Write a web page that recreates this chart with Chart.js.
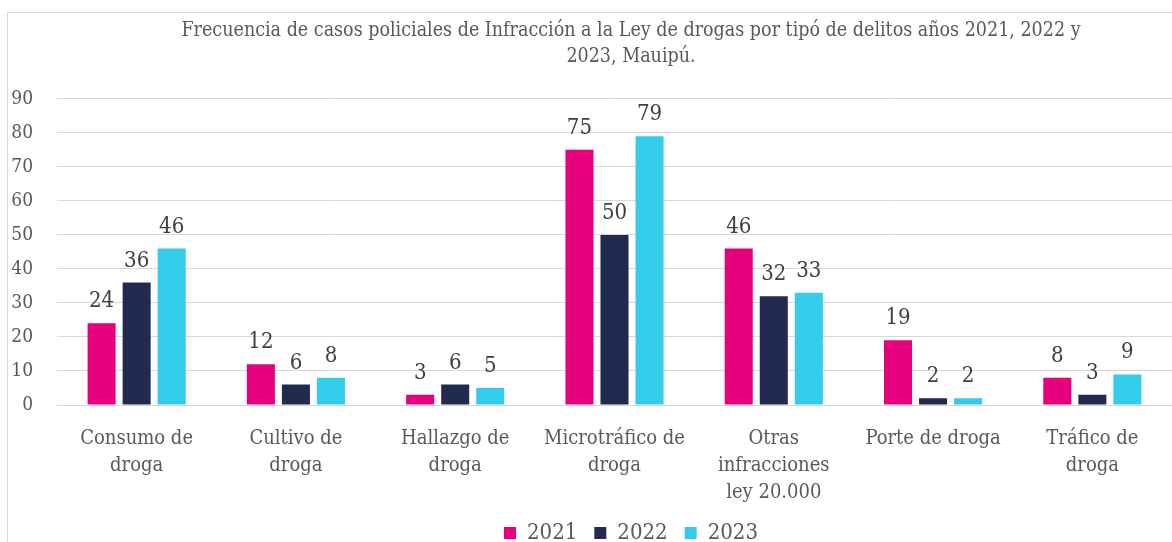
<!DOCTYPE html>
<html>
<head>
<meta charset="utf-8">
<script src="https://cdn.jsdelivr.net/npm/chart.js@4.4.1/dist/chart.umd.min.js"></script>
<style>
  html, body { margin: 0; padding: 0; background: #fff; overflow: hidden; }
  #marco { position: absolute; left: 7px; top: 12px; width: 1246px; height: 541px; border: 1px solid #d9d9d9; }
</style>
</head>
<body>
<div id="marco"><canvas id="grafico"></canvas></div>
<script>
// datos del gráfico
const categorias = [
  ["Consumo de", "droga"],
  ["Cultivo de", "droga"],
  ["Hallazgo de", "droga"],
  ["Microtráfico de", "droga"],
  ["Otras", "infracciones", "ley 20.000"],
  ["Porte de droga"],
  ["Tráfico de", "droga"]
];
const anios = ["2021", "2022", "2023"];
const casos2021 = [24, 12, 3, 75, 46, 19, 8];
const casos2022 = [36, 6, 6, 50, 32, 2, 3];
const casos2023 = [46, 8, 5, 79, 33, 2, 9];
const marcasY = [0, 10, 20, 30, 40, 50, 60, 70, 80, 90];

const fuente = '"DejaVu Serif Condensed", "DejaVu Serif", "Liberation Serif", serif';
Chart.defaults.font.family = fuente;
Chart.defaults.color = "#595959";

// etiquetas de valor encima de cada barra
const etiquetasValor = {
  id: "etiquetasValor",
  afterDatasetsDraw(chart) {
    const ctx = chart.ctx;
    ctx.save();
    ctx.font = "22px " + fuente;
    ctx.fillStyle = "#404040";
    ctx.textAlign = "center";
    ctx.textBaseline = "alphabetic";
    chart.data.datasets.forEach((ds, i) => {
      chart.getDatasetMeta(i).data.forEach((barra, j) => {
        ctx.fillText(ds.data[j], barra.x, barra.y - 16);
      });
    });
    ctx.restore();
  }
};

new Chart(document.getElementById("grafico"), {
  type: "bar",
  data: {
    labels: categorias,
    datasets: [
      { label: anios[0], data: casos2021, backgroundColor: "#E6007E" }, // rosado
      { label: anios[1], data: casos2022, backgroundColor: "#232A50" }, // azul marino
      { label: anios[2], data: casos2023, backgroundColor: "#33CCEB" }  // celeste
    ]
  },
  options: {
    responsive: true,
    maintainAspectRatio: false,
    animation: false,
    datasets: {
      bar: { categoryPercentage: 0.66, barPercentage: 0.8 }
    },
    scales: {
      x: {
        grid: { display: false },
        border: { display: false },
        afterFit(scale) {
          scale.height = 100;
        },
        ticks: {
          autoSkip: false,
          maxRotation: 0,
          padding: 12,
          color: "#595959",
          font: { size: 20, lineHeight: 1.35 }
        }
      },
      y: {
        min: 0,
        max: 90,
        afterBuildTicks(scale) {
          scale.ticks = marcasY.map(v => ({ value: v }));
        },
        afterFit(scale) {
          scale.width = 49;
        },
        grid: { color: "#d9d9d9", lineWidth: 1, drawTicks: false },
        border: { display: false },
        ticks: {
          padding: 24,
          color: "#595959",
          font: { size: 19 }
        }
      },
      // eje vacío a la derecha: el gráfico original sigue más allá del recorte
      derecha: {
        position: "right",
        grid: { display: false },
        border: { display: false },
        ticks: { display: false },
        afterFit(scale) {
          scale.width = 82;
        }
      }
    },
    plugins: {
      title: {
        display: true,
        text: [
          "Frecuencia de casos policiales de Infracción a la Ley de drogas por tipó de delitos años 2021, 2022 y",
          "2023, Mauipú."
        ],
        color: "#595959",
        font: { size: 19.5, weight: "normal", lineHeight: 1.38 },
        padding: { top: 4, bottom: 28 }
      },
      legend: {
        position: "bottom",
        labels: {
          boxWidth: 12,
          boxHeight: 12,
          padding: 17,
          color: "#595959",
          font: { size: 22 }
        }
      },
      tooltip: { enabled: false }
    }
  },
  plugins: [etiquetasValor]
});
</script>
</body>
</html>
